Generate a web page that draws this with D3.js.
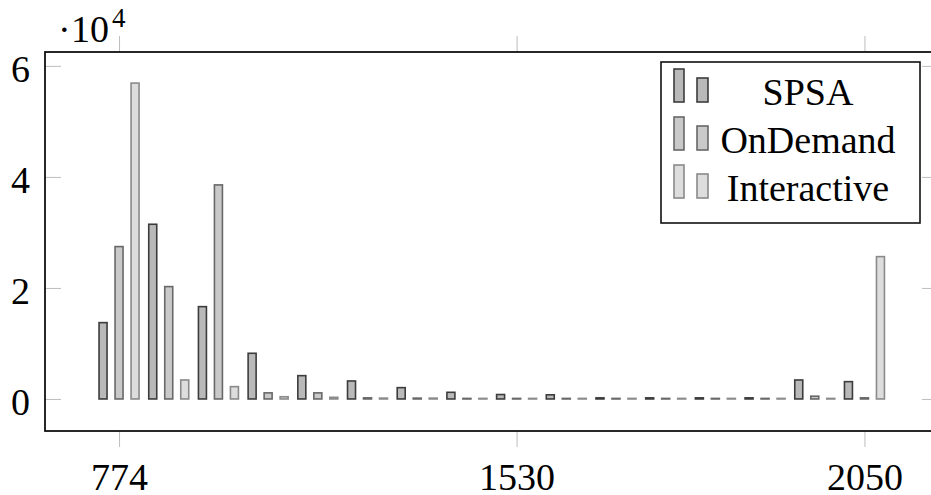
<!DOCTYPE html>
<html>
<head>
<meta charset="utf-8">
<script src="https://cdn.jsdelivr.net/npm/d3@7"></script>
<style>
  body { margin: 0; background: #fff; }
  svg text { font-family: "Liberation Serif", serif; fill: #000; }
</style>
</head>
<body>
<div id="chart"></div>
<script>
// data (values in absolute units, axis shows x10^4)
const series = ["SPSA", "OnDemand", "Interactive"];
const groups = [0, 1, 2, 3, 4, 5, 6, 7, 8, 9, 10, 11, 12, 13, 14, 15];
const tickGroups = [0, 8, 15];
const tickLabels = ["774", "1530", "2050"];
const spsa        = [13750, 31470, 16630, 8230, 4200, 3240, 2040, 1200, 800, 750, 200, 200, 200, 200, 3420, 3120];
const onDemand    = [27450, 20240, 38560, 1100, 1100, 200, 150, 100, 100, 100, 100, 100, 100, 100, 500, 200];
const interactive = [56900, 3420, 2220, 400, 300, 150, 150, 100, 100, 100, 100, 100, 100, 100, 100, 25640];
const yTicks = [0, 20000, 40000, 60000];

const width = 931, height = 495;
const marginLeft = 45, plotRight = 938, plotTop = 52, plotBottom = 431;

const fills = { SPSA: "#b9b9b9", OnDemand: "#c9c9c9", Interactive: "#dddddd" };
const strokes = { SPSA: "#3c3c3c", OnDemand: "#686868", Interactive: "#8a8a8a" };

const values = { SPSA: spsa, OnDemand: onDemand, Interactive: interactive };
const rows = [];
series.forEach(s => groups.forEach((g, i) => rows.push({ series: s, group: g, value: values[s][i] })));

const x = d3.scaleLinear().domain([-1.49, 16.48]).range([marginLeft, plotRight]);
const inner = d3.scalePoint().domain(series).range([-16, 16]);
const y = d3.scaleLinear().domain([-5770, 62500]).range([plotBottom, plotTop]);
const barW = 8;

const svg = d3.select("#chart").append("svg")
    .attr("width", width)
    .attr("height", height);

// bars
svg.selectAll(".bar")
    .data(rows)
    .enter().append("rect")
    .attr("class", "bar")
    .attr("x", d => x(d.group) + inner(d.series) - barW / 2)
    .attr("y", d => y(d.value))
    .attr("width", barW)
    .attr("height", d => y(0) - y(d.value))
    .attr("fill", d => fills[d.series])
    .attr("stroke", d => strokes[d.series])
    .attr("stroke-width", 1.6);

// axes
const xBottom = svg.append("g")
    .attr("transform", `translate(0,${plotBottom})`)
    .call(d3.axisBottom(x).tickValues(tickGroups)
        .tickFormat((d, i) => tickLabels[i]).tickSize(16).tickPadding(16));

const xTop = svg.append("g")
    .attr("transform", `translate(0,${plotTop})`)
    .call(d3.axisTop(x).tickValues(tickGroups).tickFormat("").tickSize(16));

const yLeft = svg.append("g")
    .attr("transform", `translate(${marginLeft},0)`)
    .call(d3.axisLeft(y).tickValues(yTicks).tickFormat(d => d / 10000)
        .tickSize(-16).tickPadding(15));

const yRight = svg.append("g")
    .attr("transform", `translate(${plotRight},0)`)
    .call(d3.axisRight(y).tickValues(yTicks).tickFormat("").tickSize(-16));

[xBottom, xTop, yLeft, yRight].forEach(g => {
    g.select(".domain").remove();
    g.selectAll(".tick line").attr("stroke", "#bdbdbd").attr("stroke-width", 1);
    g.selectAll(".tick text")
        .style("font-family", "Liberation Serif")
        .style("font-size", "38px")
        .attr("fill", "#000");
});
yLeft.selectAll(".tick text").attr("dy", "0.4em");

// frame
svg.append("rect")
    .attr("x", marginLeft)
    .attr("y", plotTop)
    .attr("width", plotRight - marginLeft)
    .attr("height", plotBottom - plotTop)
    .attr("fill", "none")
    .attr("stroke", "#111")
    .attr("stroke-width", 1.8);

// scale label
svg.append("text").attr("x", 58).attr("y", 42).style("font-size", "38px").text("·");
svg.append("text").attr("x", 71).attr("y", 42).style("font-size", "38px").text("10");
svg.append("text").attr("x", 112).attr("y", 27).style("font-size", "27px").text("4");

// legend
const legend = svg.append("g").attr("class", "legend");
legend.append("rect")
    .attr("x", 661).attr("y", 62)
    .attr("width", 259).attr("height", 161)
    .attr("fill", "#fff")
    .attr("stroke", "#111")
    .attr("stroke-width", 1.6);

series.forEach((s, i) => {
    const base = 102 + i * 48;
    legend.append("rect")
        .attr("x", 674).attr("y", base - 33)
        .attr("width", 10).attr("height", 33)
        .attr("fill", fills[s]).attr("stroke", strokes[s]).attr("stroke-width", 1.6);
    legend.append("rect")
        .attr("x", 697).attr("y", base - 24)
        .attr("width", 11).attr("height", 24)
        .attr("fill", fills[s]).attr("stroke", strokes[s]).attr("stroke-width", 1.6);
    legend.append("text")
        .attr("x", 808).attr("y", base + 3)
        .attr("text-anchor", "middle")
        .style("font-size", "38px")
        .text(s);
});
</script>
</body>
</html>
